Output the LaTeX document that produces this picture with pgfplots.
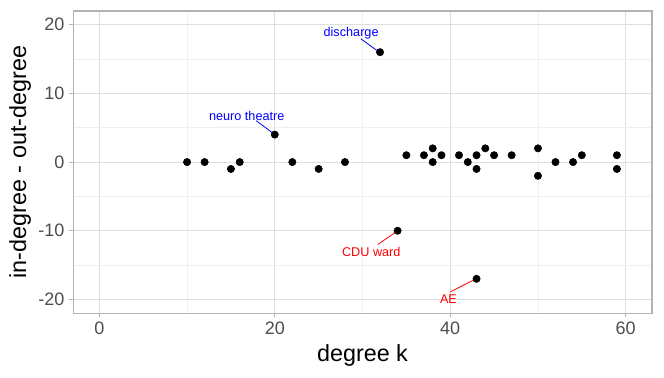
\documentclass[border=0pt]{standalone}
\usepackage{pgfplots}
\pgfplotsset{compat=1.18}
\usepackage{fontspec}
\setmainfont{Liberation Sans}
\definecolor{gridmaj}{HTML}{DEDEDE}
\definecolor{gridmin}{HTML}{EFEFEF}
\definecolor{border}{HTML}{B3B3B3}
\definecolor{ticklab}{HTML}{4D4D4D}
\begin{document}
\begin{tikzpicture}
\useasboundingbox (-54.75pt,-48pt) rectangle (443pt,234.75pt);
\begin{axis}[
  at={(0,0)}, anchor=south west,
  scale only axis, width=434pt, height=226.5pt,
  xmin=-3, xmax=63, ymin=-22, ymax=22,
  xtick={0,20,40,60}, ytick={-20,-10,0,10,20},
  minor xtick={10,30,50}, minor ytick={-15,-5,5,15},
  grid=both,
  major grid style={gridmaj, line width=0.6pt},
  minor grid style={gridmin, line width=0.4pt},
  axis line style={border, line width=0.8pt},
  tick style={border, line width=0.6pt},
  major tick length=3pt, minor tick length=0pt,
  tick align=outside,
  xtick pos=bottom, ytick pos=left,
  /pgf/number format/assume math mode=true,
  ticklabel style={font=\fontsize{13.5}{15}\selectfont, text=ticklab},
  xlabel={degree k}, ylabel={in-degree - out-degree},
  label style={font=\fontsize{17.5}{20}\selectfont},
  xlabel style={at={(axis description cs:0.5,-0.139)}, anchor=center},
  ylabel style={at={(axis description cs:-0.0916,0.5)}, anchor=center},
  clip=false,
]
\addplot[only marks, mark=*, mark size=2.75pt, black] coordinates {
(10,0)(12,0)(15,-1)(16,0)(20,4)(22,0)(25,-1)(28,0)(32,16)(34,-10)
(35,1)(37,1)(38,2)(38,0)(39,1)(41,1)(42,0)(43,1)(43,-1)(43,-17)
(44,2)(45,1)(47,1)(50,2)(50,-2)(52,0)(54,0)(55,1)(59,1)(59,-1)
};
\addplot[blue, line width=0.6pt, no markers] coordinates {(29.8,17.96)(31.7,16.2)};
\addplot[blue, line width=0.6pt, no markers] coordinates {(17.88,6.03)(19.8,4.2)};
\addplot[red, line width=0.6pt, no markers] coordinates {(31.75,-12.0)(33.8,-10.2)};
\addplot[red, line width=0.6pt, no markers] coordinates {(40.0,-18.9)(42.8,-17.1)};
\node[text=blue, font=\fontsize{9.5}{11}\selectfont] at (axis cs:28.7,18.7) {discharge};
\node[text=blue, font=\fontsize{9.5}{11}\selectfont] at (axis cs:16.8,6.7) {neuro theatre};
\node[text=red, font=\fontsize{9.5}{11}\selectfont] at (axis cs:31,-13.1) {CDU ward};
\node[text=red, font=\fontsize{9.5}{11}\selectfont] at (axis cs:39.8,-20) {AE};
\end{axis}
\end{tikzpicture}
\end{document}
